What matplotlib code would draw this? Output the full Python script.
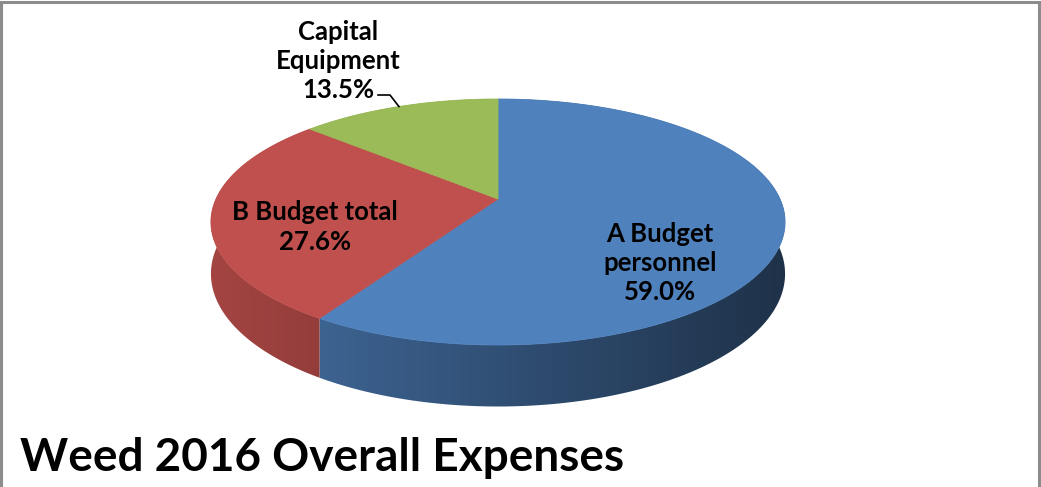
import numpy as np
import matplotlib
matplotlib.use("Agg")
import matplotlib.pyplot as plt
from matplotlib.patches import Polygon

plt.rcParams['font.family'] = ['Lato', 'DejaVu Sans']

# data
categories = ["A Budget\npersonnel", "B Budget total", "Capital\nEquipment"]
shares = [59.0, 27.6, 13.5]
colors = ["#4F81BD", "#C0504D", "#9BBB59"]
title = "Weed 2016 Overall Expenses"

# 3D pie geometry (pixel space, y down)
cx, cy = 498, 199      # pie centre
R, T = 282, 118.7      # horizontal radius, tilted vertical radius
k = 0.187              # perspective strength
D = 50                 # thickness


def proj(theta, r=1.0, drop=0.0):
    # theta clockwise from 12 o'clock, radians
    u = r * np.sin(theta)
    v = -r * np.cos(theta)
    s = 1.0 / (1.0 - k * v)
    return cx + R * u * s, cy + (T * v + drop) * s


fig = plt.figure(figsize=(10.41, 4.87), dpi=100)
ax = fig.add_axes([0, 0, 1, 1])
ax.axis("off")

fracs = np.array(shares) / np.sum(shares)
bounds = np.concatenate([[0], np.cumsum(fracs)]) * 2 * np.pi

# side walls: one polygon per slice, filled with a left-to-right shading
xpix = np.arange(1041) + 0.5
u_of_x = np.clip((xpix - cx) / (R * 1.036), -1, 1)
shade = 0.62 - 0.24 * u_of_x
for i in range(len(shares)):
    th = np.linspace(bounds[i], bounds[i + 1], 300)
    xt, yt = proj(th)
    xb, yb = proj(th[::-1], drop=D)
    side = Polygon(list(zip(np.r_[xt, xb], np.r_[yt, yb])), closed=True,
                   facecolor="none", edgecolor="none")
    ax.add_patch(side)
    base = np.array(matplotlib.colors.to_rgb(colors[i]))
    img = np.clip(shade[None, :, None] * base[None, None, :], 0, 1)
    im = ax.imshow(img, extent=[0, 1041, 487, 0], interpolation="bilinear",
                   zorder=1, aspect="auto")
    im.set_clip_path(side)

# top faces
for i in range(len(shares)):
    th = np.linspace(bounds[i], bounds[i + 1], 200)
    xs, ys = proj(th)
    pts = [(cx, cy)] + list(zip(xs, ys))
    ax.add_patch(Polygon(pts, closed=True, facecolor=colors[i],
                         edgecolor=colors[i], linewidth=0.6, zorder=2))

ax.set_xlim(0, 1041)
ax.set_ylim(487, 0)

# labels
lab_kw = dict(fontsize=18.5, fontweight="bold", ha="center", va="center",
              linespacing=1.25, color="black", zorder=3)
ax.text(660, 263, f"{categories[0]}\n{shares[0]:.1f}%", **lab_kw)
ax.text(315, 227, f"{categories[1]}\n{shares[1]:.1f}%", **lab_kw)
ax.text(338, 61, f"{categories[2]}\n{shares[2]:.1f}%", **lab_kw)

# leader line for the small slice
mid = 0.5 * (bounds[2] + bounds[3])
ex, ey = proj(mid)
ax.plot([378, 390, ex], [95, 95, ey], color="black", linewidth=1.2, zorder=3)

ax.text(20, 471, title, fontsize=33, fontweight="bold", ha="left",
        va="baseline", color="black")

# chart frame (no bottom edge)
ax.plot([1, 1, 1039, 1039], [487, 2, 2, 487], color="#8c8c8c",
        linewidth=2.2, solid_joinstyle="miter")

fig.savefig("out.png", dpi=100)
